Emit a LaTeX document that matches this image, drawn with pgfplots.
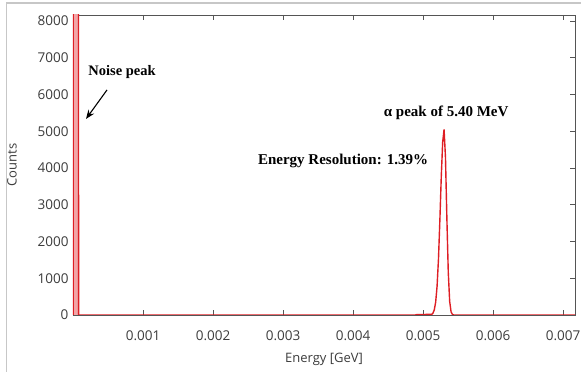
\documentclass[border=0pt]{standalone}
\usepackage{fontspec}
\setmainfont{Open Sans}
\newfontfamily\tnr{Liberation Serif}
\usepackage{pgfplots}
\usetikzlibrary{arrows.meta}
\pgfplotsset{compat=1.18}
\definecolor{axgray}{RGB}{85,85,85}
\definecolor{lblgray}{RGB}{60,60,60}
\definecolor{pkred}{RGB}{222,30,36}
\begin{document}
\begin{tikzpicture}[x=1pt,y=1pt]
\useasboundingbox (0,0) rectangle (581,372);
\draw[black!22, line width=1.2pt] (6.5,0) -- (6.5,369) -- (590,369);
\begin{axis}[
  at={(73pt,57pt)}, anchor=south west,
  width=502pt, height=300pt, scale only axis,
  xmin=0, xmax=0.00717, ymin=0, ymax=8160,
  scaled x ticks=false, scaled y ticks=false,
  xtick={0.001,0.002,0.003,0.004,0.005,0.006,0.007},
  xticklabels={0.001,0.002,0.003,0.004,0.005,0.006,0.007},
  ytick={0,1000,2000,3000,4000,5000,6000,7000,8000},
  yticklabels={0,1000,2000,3000,4000,5000,6000,7000,8000},
  tick align=inside, major tick length=5pt,
  tick style={axgray, line width=0.6pt},
  axis line style={axgray, line width=0.8pt},
  ticklabel style={font=\fontsize{13.5}{15}\selectfont, text=lblgray},
  xticklabel style={yshift=-12pt},
  yticklabel style={xshift=-1pt},
  xlabel={Energy [GeV]}, ylabel={Counts},
  label style={font=\fontsize{13}{15}\selectfont, text=lblgray},
  xlabel style={yshift=-6pt},
  ylabel style={yshift=14pt},
  clip=true,
]
\addplot[pkred, line width=1.4pt, fill=pkred!40] coordinates {
 (0.000003,0) (0.000004,9000) (0.000078,9000) (0.00008,0)
};
\addplot[pkred, line width=1.4pt] coordinates {
 (0.00008,0) (0.0049,0) (0.0049,8) (0.0050,12) (0.0051,20)
 (0.00512,14) (0.00514,45) (0.00516,140) (0.00518,350) (0.00520,780)
 (0.00522,1520) (0.00524,2580) (0.00526,3760) (0.00528,4700) (0.00530,5050)
 (0.00532,4290) (0.00534,2630) (0.00536,1162) (0.00538,370) (0.00540,85)
 (0.00542,14) (0.00544,0) (0.0072,0)
};
\node[anchor=west, font=\tnr\bfseries\fontsize{14.5}{16}\selectfont] at (axis cs:0.00017,6612) {Noise peak};
\draw[-{Stealth[length=9pt,width=7pt]}, line width=1.1pt] (axis cs:0.000486,6122) -- (axis cs:0.000186,5333);
\node[font=\tnr\bfseries\fontsize{15}{17}\selectfont] at (axis cs:0.00533,5497) {α peak of 5.40 MeV};
\node[font=\tnr\bfseries\fontsize{15}{17}\selectfont] at (axis cs:0.003857,4190) {Energy Resolution: 1.39\%};
\end{axis}
\end{tikzpicture}
\end{document}
